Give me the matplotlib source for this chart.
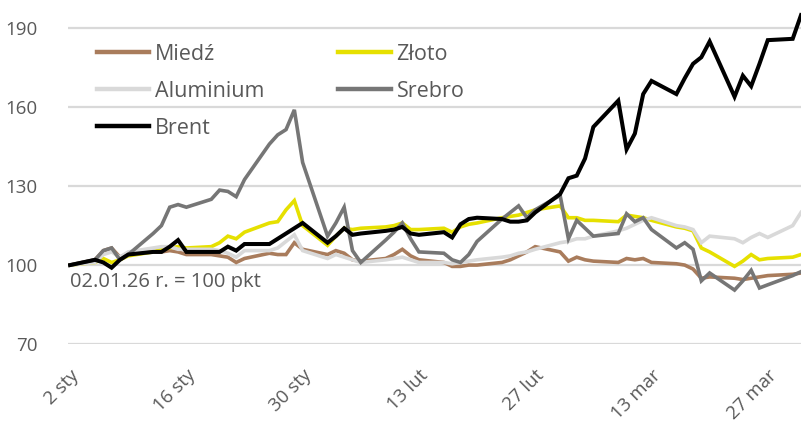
import numpy as np
import pandas as pd
import matplotlib
matplotlib.use("Agg")
import matplotlib.pyplot as plt
import matplotlib.transforms as mtransforms

plt.rcParams['font.family'] = ['Open Sans', 'DejaVu Sans']

# business days 2 Jan - 31 Mar 2026 (index: 02.01.26 = 100)
dates = pd.bdate_range('2026-01-02', '2026-03-31')

miedz = [100, 102, 105.5, 106.5, 103, 104.5,
         105, 105, 105.5, 105, 104,
         104, 103.5, 103, 101, 102.5,
         104.5, 104, 104, 108.5, 106,
         104, 105.5, 104.5, 102, 101.5,
         102.5, 104, 106, 103.5, 102,
         101, 99.5, 99.5, 100, 100,
         101, 102, 103.5, 105, 107,
         105, 101.5, 103, 102, 101.5,
         101, 102.5, 102, 102.5, 101,
         100.5, 100, 98.5, 95, 95.5,
         95, 94.5, 95, 95.5, 96,
         96.5, 97]

zloto = [100, 101, 102.5, 101, 102, 103.5,
         105, 106, 106.5, 107, 106.5,
         107, 108.5, 111, 110, 112.5,
         116, 116.5, 121, 124.5, 115,
         107.5, 111, 114, 113.5, 114,
         114.5, 115, 116, 113.5, 113.5,
         114, 112.5, 114.5, 115.5, 116,
         118, 118.5, 119, 120, 121,
         122.5, 118, 118, 117, 117,
         116.5, 119, 118.5, 118, 117,
         114.5, 114, 113, 106.5, 105,
         99.5, 101.5, 104, 102, 102.5,
         103, 104]

aluminium = [100, 101, 104, 105, 103, 105,
             106.5, 107, 107, 106, 106,
             106, 105.5, 104.5, 103, 105.5,
             105.5, 106.5, 109, 111.5, 105.5,
             102.5, 104, 103, 102, 101,
             102, 102.5, 103, 102, 101,
             101, 100.5, 101, 101.5, 102,
             103, 103.5, 104.5, 105, 106,
             108.5, 109, 110, 110, 111,
             113, 114, 115.5, 117, 118,
             115, 114.5, 113.5, 108.5, 111,
             110, 108.5, 110.5, 112, 110.5,
             115, 120]

srebro = [100, 102, 105.5, 106.5, 102, 104,
          112, 115, 122, 123, 122,
          125, 128.5, 128, 126, 132.5,
          146, 149.5, 151.5, 159, 139,
          111, 116, 122, 105.5, 101,
          109.5, 112.5, 116, 110, 105,
          104.5, 102, 101, 104, 109,
          117.5, 120, 122.5, 118, 121,
          126.5, 110, 117, 114, 111,
          112, 119.5, 116.5, 118, 113.5,
          106.5, 108.5, 106, 94, 97,
          90.5, 94, 98, 91.3, 92.5,
          96, 97.5]

brent = [100, 102, 101, 99, 102, 104,
         105, 105, 107, 109.5, 105,
         105, 105, 107, 105.5, 108,
         108, 110, 112, 114, 116,
         108.5, 111, 114, 111.5, 112,
         113, 113.5, 114.5, 112, 111.5,
         112.5, 110.5, 115.5, 117.5, 118,
         117.5, 116.5, 116.5, 117, 120,
         127, 133, 134, 140.5, 152.5,
         162.5, 144, 150, 165, 170,
         165, 171, 176.5, 179, 185,
         164, 172, 168, 176.5, 185.5,
         186, 195]

series = [
    ('Miedź', miedz, '#A97C5C', 2.6),
    ('Złoto', zloto, '#E6E000', 2.6),
    ('Aluminium', aluminium, '#D9D9D9', 2.6),
    ('Srebro', srebro, '#767676', 2.6),
    ('Brent', brent, '#000000', 2.9),
]

tick_dates = pd.to_datetime(['2026-01-02', '2026-01-16', '2026-01-30', '2026-02-13',
                             '2026-02-27', '2026-03-13', '2026-03-27'])
tick_labels = ['2 sty', '16 sty', '30 sty', '13 lut', '27 lut', '13 mar', '27 mar']
y_ticks = [70, 100, 130, 160, 190]

start = dates[0]
days = (dates - start).days.values
tick_days = (tick_dates - start).days.values

fig = plt.figure(figsize=(8.01, 4.23), dpi=100)
ax = fig.add_axes([68 / 801, 1 - 344 / 423, 1 - 68 / 801, 342 / 423])

handles = {}
for name, vals, color, lw in series:
    h, = ax.plot(days, vals, color=color, lw=lw, solid_joinstyle='miter', label=name)
    handles[name] = h

ax.set_xlim(-0.25, 88)
ax.set_ylim(70, 200)
ax.set_yticks(y_ticks)
ax.set_xticks(tick_days)
ax.set_xticklabels(tick_labels)
ax.grid(axis='y', color='#D9D9D9', lw=1.6)
ax.set_axisbelow(True)
for s in ax.spines.values():
    s.set_visible(False)
ax.tick_params(axis='both', length=0, colors='#595959', labelsize=13.5)
ax.tick_params(axis='y', pad=22)
ax.tick_params(axis='x', pad=16)

offset = mtransforms.ScaledTranslation(0, 0, fig.dpi_scale_trans)
for lab in ax.get_xticklabels():
    lab.set_rotation(45)
    lab.set_rotation_mode('anchor')
    lab.set_ha('right')
    lab.set_va('top')
    lab.set_transform(lab.get_transform() + offset)

order = ['Miedź', 'Aluminium', 'Brent', 'Złoto', 'Srebro']
leg = ax.legend([handles[n] for n in order], order, ncol=2, frameon=False,
                loc='upper left', bbox_to_anchor=(20 / 733, 0.903),
                fontsize=15.5, handlelength=2.45, handletextpad=0.25,
                columnspacing=3.45, labelspacing=0.74, borderaxespad=0)
for t in leg.get_texts():
    t.set_color('#595959')
for h in leg.legend_handles:
    h.set_linewidth(3.2)

ax.text(2 / 733, 0.181, '02.01.26 r. = 100 pkt', transform=ax.transAxes,
        fontsize=14.5, color='#595959', ha='left', va='center')

fig.savefig('out.png', dpi=100)
